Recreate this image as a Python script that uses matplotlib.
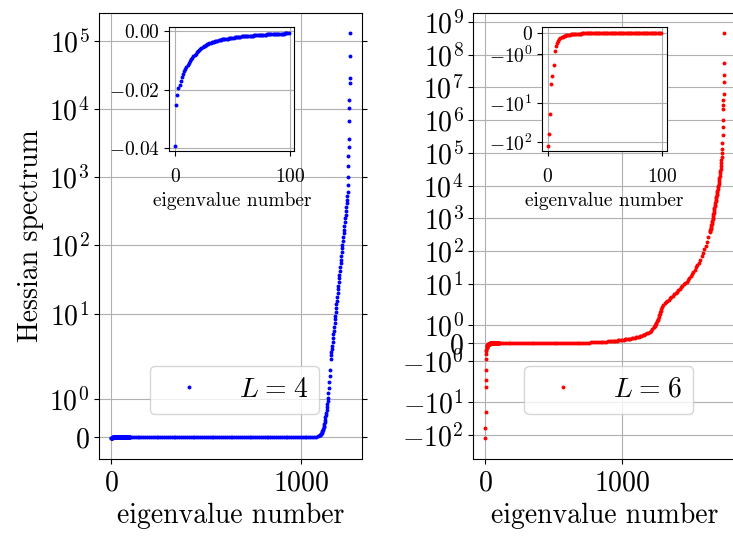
import numpy as np
import matplotlib
matplotlib.use('Agg')
import matplotlib.pyplot as plt

# LaTeX-like look without a TeX install
plt.rcParams['font.family'] = 'serif'
plt.rcParams['font.serif'] = ['cmr10']
plt.rcParams['mathtext.fontset'] = 'cm'
plt.rcParams['axes.formatter.use_mathtext'] = True
plt.rcParams['font.size'] = 20

# ---------------- L = 4 spectrum (1261 eigenvalues, sorted) ----------------
# first 100 eigenvalues
l4_head = [
    -0.0391, -0.0254, -0.0217, -0.0194, -0.0184, -0.0170, -0.0156, -0.0146, -0.0138, -0.0130,
    -0.0123, -0.0116, -0.0109, -0.0103, -0.0097, -0.0092, -0.0087, -0.0082, -0.0078, -0.0073,
    -0.0070, -0.0066, -0.0062, -0.0059, -0.0056, -0.0053, -0.0051, -0.0049, -0.0047, -0.0045,
    -0.0043, -0.0042, -0.0040, -0.0039, -0.0038, -0.0036, -0.0035, -0.0034, -0.0033, -0.0032,
    -0.0031, -0.0030, -0.0030, -0.0029, -0.0028, -0.0027, -0.0027, -0.0026, -0.0025, -0.0025,
    -0.0024, -0.0024, -0.0023, -0.0023, -0.0022, -0.0022, -0.0021, -0.0021, -0.0020, -0.0020,
    -0.0019, -0.0019, -0.0019, -0.0018, -0.0018, -0.0018, -0.0017, -0.0017, -0.0017, -0.0016,
    -0.0016, -0.0016, -0.0015, -0.0015, -0.0015, -0.0015, -0.0014, -0.0014, -0.0014, -0.0014,
    -0.0013, -0.0013, -0.0013, -0.0013, -0.0012, -0.0012, -0.0012, -0.0012, -0.0011, -0.0011,
    -0.0011, -0.0011, -0.0010, -0.0010, -0.0010, -0.0010, -0.0009, -0.0009, -0.0009, -0.0008,
]
# bulk of the spectrum, read every 10th eigenvalue: sits on 0
l4_bulk_idx = list(range(100, 1050, 10))
l4_bulk = [0.0] * len(l4_bulk_idx)
# upper edge of the spectrum
l4_rise_idx = ([1050, 1060, 1070, 1080, 1090, 1100] + list(range(1102, 1155, 2))
               + list(range(1158, 1247, 2)) + list(range(1247, 1261)))
l4_rise = [
    0.003, 0.005, 0.008, 0.012, 0.022, 0.045,
    0.05, 0.06, 0.07, 0.085, 0.10, 0.12, 0.15, 0.18, 0.22, 0.26,
    0.30, 0.35, 0.40, 0.46, 0.52, 0.58, 0.64, 0.71, 0.78, 0.86,
    0.94, 1.02, 1.15, 1.30, 1.45, 1.62, 1.78,
    2.19, 2.45, 2.69, 3.02, 3.39, 3.89, 4.37, 5.01, 5.62, 6.46,
    7.24, 8.32, 9.33, 10.7, 12.0, 13.8, 15.5, 17.8, 20.0, 22.9,
    25.7, 29.5, 33.1, 37.2, 42.7, 47.9, 55.0, 61.7, 70.8, 79.4,
    91.2, 102, 117, 132, 151, 170, 195, 219, 251, 282,
    324, 363, 417, 468, 525,
    603, 759, 1023, 1445, 2089, 2818, 3631, 6761, 10470, 13490,
    24550, 28840, 59570, 131200,
]

# ---------------- L = 6 spectrum (1745 eigenvalues, sorted) ----------------
r6_head = [
    -126, -61.5, -19.5, -3.3, -2.0, -1.49, -0.86, -0.62, -0.46, -0.36,
    -0.29, -0.24, -0.20, -0.17, -0.145, -0.125, -0.11, -0.097, -0.087, -0.078,
    -0.070, -0.063, -0.057, -0.052, -0.047, -0.043, -0.039, -0.036, -0.033, -0.030,
    -0.028, -0.026, -0.024, -0.022, -0.021, -0.019, -0.018, -0.017, -0.016, -0.015,
    -0.014, -0.013, -0.013, -0.012, -0.012, -0.011, -0.011, -0.010, -0.010, -0.0095,
    -0.0090, -0.0087, -0.0084, -0.0082, -0.0079, -0.0077, -0.0075, -0.0073, -0.0071, -0.0069,
    -0.0067, -0.0065, -0.0063, -0.0062, -0.0060, -0.0058, -0.0057, -0.0055, -0.0054, -0.0053,
    -0.0051, -0.0050, -0.0049, -0.0048, -0.0047, -0.0046, -0.0045, -0.0044, -0.0043, -0.0042,
    -0.0041, -0.0040, -0.0039, -0.0039, -0.0038, -0.0037, -0.0036, -0.0036, -0.0035, -0.0034,
    -0.0034, -0.0033, -0.0033, -0.0032, -0.0032, -0.0031, -0.0031, -0.0030, -0.0030, -0.0029,
]
r6_bulk_idx = list(range(100, 900, 14))
r6_bulk = [0.0] * 43 + [0.01, 0.015, 0.02, 0.025, 0.03, 0.035, 0.04, 0.045,
                        0.05, 0.055, 0.06, 0.065, 0.07, 0.08, 0.09]
r6_lin_idx = list(range(910, 1231, 10)) + list(range(1234, 1291, 4))
r6_lin = [
    0.10, 0.11, 0.12, 0.12, 0.13, 0.14, 0.145, 0.15, 0.165, 0.18,
    0.19, 0.20, 0.21, 0.22, 0.24, 0.25, 0.27, 0.28, 0.30, 0.31,
    0.33, 0.35, 0.37, 0.40, 0.44, 0.47, 0.50, 0.54, 0.58, 0.62,
    0.68, 0.76, 0.86,
    0.90, 0.95, 1.01, 1.07, 1.13, 1.20, 1.27, 1.35, 1.43, 1.52,
    1.61, 1.70, 1.79, 1.88, 1.97,
]
# above 2 the values were read on the log axis, as powers of ten
r6_log_idx = list(range(1300, 1641, 10)) + list(range(1642, 1735, 2)) + list(range(1735, 1745))
r6_log_exp = [
    0.35, 0.40, 0.44, 0.48, 0.52, 0.56, 0.60, 0.64, 0.68, 0.72,
    0.76, 0.80, 0.85, 0.89, 0.93, 0.98, 1.02, 1.07, 1.12, 1.18,
    1.24, 1.30, 1.36, 1.43, 1.50, 1.57, 1.65, 1.74, 1.84, 1.95,
    2.05, 2.16, 2.29, 2.42, 2.57,
    2.60, 2.63, 2.67, 2.71, 2.75, 2.79, 2.84, 2.88, 2.92, 2.97,
    3.02, 3.07, 3.12, 3.17, 3.22, 3.27, 3.32, 3.37, 3.42, 3.47,
    3.52, 3.56, 3.61, 3.65, 3.70, 3.75, 3.80, 3.85, 3.90, 3.95,
    4.00, 4.06, 4.12, 4.18, 4.24, 4.30, 4.37, 4.44, 4.52, 4.60,
    4.69, 4.78, 4.88, 4.98, 5.12, 5.30, 5.55,
    5.79, 6.00, 6.35, 6.45, 6.61, 6.81, 7.17, 7.37, 7.73, 8.66,
]

l4_x = list(range(100)) + l4_bulk_idx + l4_rise_idx
l4_y = l4_head + l4_bulk + l4_rise
r6_x = list(range(100)) + r6_bulk_idx + r6_lin_idx + r6_log_idx
r6_y = r6_head + r6_bulk + r6_lin + list(10 ** np.array(r6_log_exp))

fig = plt.figure(figsize=(7.33, 5.36), dpi=100)
ax1 = fig.add_axes([0.1351, 0.1442, 0.3588, 0.8321])
ax2 = fig.add_axes([0.6457, 0.1442, 0.3584, 0.8321])

panels = [(ax1, l4_x, l4_y, 'b', r'$L\hspace{0.09}=\hspace{0.09}4$'),
          (ax2, r6_x, r6_y, 'r', r'$L\hspace{0.09}=\hspace{0.09}6$')]
for ax, x, y, c, lab in panels:
    ax.plot(x, y, 'o', ms=2.8, mew=0, color=c, label=lab)
    ax.set_yscale('symlog')
    ax.set_xticks([0, 1000])
    ax.grid(True)
    ax.yaxis.set_ticks_position('both')
    ax.tick_params(axis='x', pad=5)
    ax.set_xlabel('eigenvalue number')
    ax.legend(loc='lower right', bbox_to_anchor=(0.838, 0.10), borderaxespad=0)
ax1.set_ylabel('Hessian spectrum', labelpad=4)

# insets with the 100 smallest eigenvalues
ins1 = fig.add_axes([0.2310, 0.7174, 0.1705, 0.2317])
ins1.plot(range(100), l4_head, 'o', ms=2.8, mew=0, color='b')
ins1.set_yticks([-0.04, -0.02, 0.0])

ins2 = fig.add_axes([0.7398, 0.7174, 0.1697, 0.2317])
ins2.plot(range(100), r6_head, 'o', ms=2.8, mew=0, color='r')
ins2.set_yscale('symlog')

for ins in (ins1, ins2):
    ins.set_xticks([0, 100])
    ins.grid(True)
    ins.tick_params(labelsize=14)
    ins.tick_params(axis='x', pad=8.5)
    ins.set_xlabel('eigenvalue number', fontsize=14)

fig.savefig('out.png', dpi=100)
